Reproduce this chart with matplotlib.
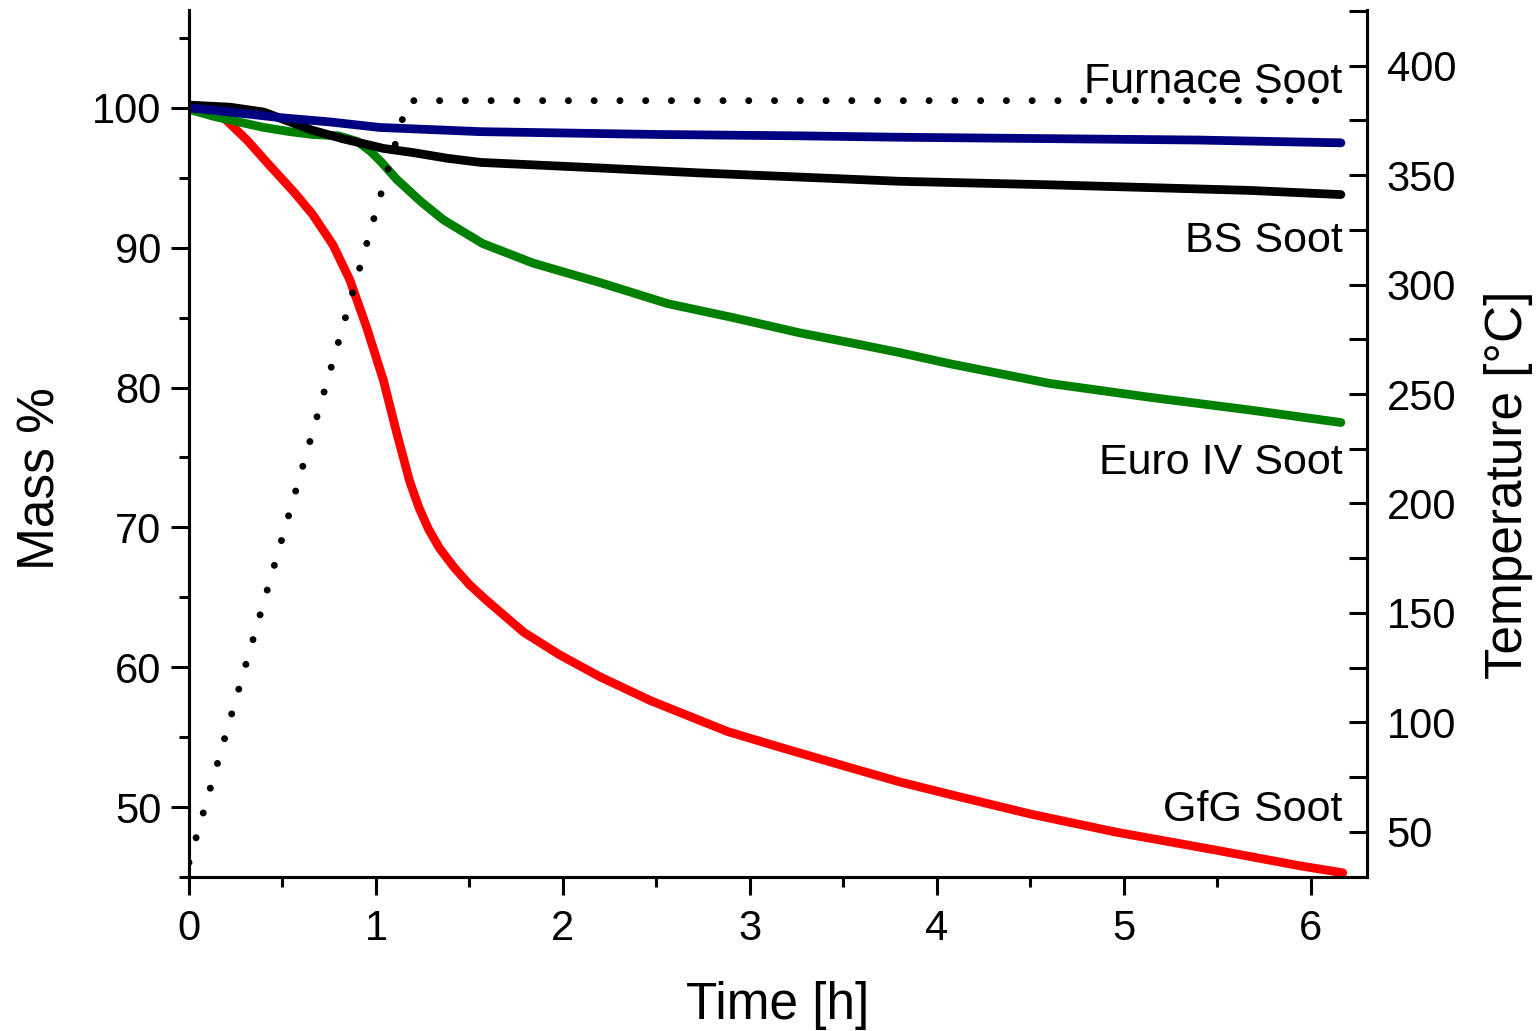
import matplotlib
matplotlib.use("Agg")
import matplotlib.pyplot as plt
from matplotlib.ticker import MultipleLocator

plt.rcParams["font.family"] = ["Liberation Sans", "DejaVu Sans"]

# ---------------- TGA data (mass % vs time) ---------------- #

gfg_t = [0.0, 0.08, 0.17, 0.31, 0.43, 0.56, 0.66, 0.77, 0.86, 0.95, 1.04, 1.11,
         1.18, 1.23, 1.28, 1.34, 1.42, 1.50, 1.59, 1.79, 1.98, 2.20, 2.47, 2.88,
         3.18, 3.54, 3.80, 4.07, 4.50, 4.96, 5.50, 5.94, 6.17]
gfg_m = [100.1, 100.1, 99.5, 97.7, 95.9, 94.0, 92.4, 90.2, 87.7, 84.3, 80.5, 76.8,
         73.3, 71.4, 69.9, 68.5, 67.1, 65.9, 64.8, 62.5, 60.9, 59.3, 57.6, 55.4,
         54.2, 52.8, 51.8, 50.9, 49.5, 48.2, 46.9, 45.8, 45.3]

euro_t = [0.0, 0.13, 0.40, 0.54, 0.66, 0.80, 0.90, 0.97, 1.03, 1.11, 1.24, 1.36,
          1.57, 1.84, 2.20, 2.56, 2.91, 3.27, 3.54, 3.80, 4.07, 4.60, 5.14, 5.67, 6.16]
euro_m = [99.9, 99.4, 98.6, 98.3, 98.1, 98.0, 97.6, 96.9, 96.1, 94.9, 93.3, 92.0,
          90.3, 88.9, 87.5, 86.0, 85.0, 83.9, 83.2, 82.5, 81.7, 80.3, 79.3, 78.4, 77.5]

bs_t = [0.0, 0.22, 0.40, 0.54, 0.66, 0.82, 1.04, 1.20, 1.38, 1.56, 2.20, 2.73,
        3.27, 3.80, 4.60, 5.67, 6.16]
bs_m = [100.2, 100.05, 99.7, 99.0, 98.4, 97.8, 97.1, 96.8, 96.4, 96.1, 95.7, 95.35,
        95.05, 94.75, 94.5, 94.1, 93.8]

furnace_t = [0.0, 0.12, 0.49, 0.75, 1.02, 1.38, 1.56, 2.50, 3.27, 3.80, 4.60, 5.40, 6.16]
furnace_m = [100.0, 99.85, 99.3, 99.0, 98.6, 98.4, 98.3, 98.1, 98.0, 97.9, 97.8, 97.7, 97.5]

# furnace temperature program
temp_t = [0.0, 1.17, 6.16]
temp_c = [36, 384, 384]

labels = ["Furnace Soot", "BS Soot", "Euro IV Soot", "GfG Soot"]
label_y = [101.1, 89.7, 73.8, 49.0]

# ---------------- Figure ---------------- #

fig = plt.figure(figsize=(15.39, 10.31), dpi=100)
ax = fig.add_axes([0.1228, 0.1494, 0.8883 - 0.1228, 0.9903 - 0.1494])
ax2 = ax.twinx()

lw = 6.3
ax.plot(gfg_t, gfg_m, color="#ff0000", lw=lw, solid_capstyle="round", solid_joinstyle="round")
ax.plot(euro_t, euro_m, color="#008000", lw=lw, solid_capstyle="round", solid_joinstyle="round")
ax.plot(bs_t, bs_m, color="black", lw=lw, solid_capstyle="round", solid_joinstyle="round")
ax.plot(furnace_t, furnace_m, color="#000080", lw=lw, solid_capstyle="round", solid_joinstyle="round")

ax2.plot(temp_t, temp_c, color="black", lw=5,
         linestyle=(0, (0.01, 3.7)), dash_capstyle="round")

for txt, y in zip(labels, label_y):
    ax.text(6.17, y, txt, ha="right", va="baseline", fontsize=31)

ax.set_xlim(0, 6.30)
ax.set_ylim(45, 107)
ax2.set_ylim(29.4, 425.4)

ax.xaxis.set_major_locator(MultipleLocator(1))
ax.xaxis.set_minor_locator(MultipleLocator(0.5))
ax.yaxis.set_major_locator(MultipleLocator(10))
ax.yaxis.set_minor_locator(MultipleLocator(5))
ax2.yaxis.set_major_locator(MultipleLocator(50))
ax2.yaxis.set_minor_locator(MultipleLocator(25))

for a in (ax, ax2):
    a.spines["top"].set_visible(False)
    for s in a.spines.values():
        s.set_linewidth(2.2)

ax.tick_params(axis="both", which="major", direction="out", length=13, width=2.2,
               labelsize=30)
ax.tick_params(axis="both", which="minor", direction="out", length=7.5, width=2.2)
ax.tick_params(axis="x", which="major", pad=10)
ax.tick_params(axis="y", which="major", pad=7)
ax2.tick_params(axis="y", which="both", direction="in", length=13, width=2.2,
                labelsize=30, pad=14)

ax.set_xlabel("Time [h]", fontsize=37, labelpad=23)
ax.set_ylabel("Mass %", fontsize=37, labelpad=19)
ax2.set_ylabel("Temperature [°C]", fontsize=37, labelpad=20)
ax.yaxis.label.set_y(0.46)
ax2.yaxis.label.set_y(0.452)

fig.savefig("out.png", dpi=100)
